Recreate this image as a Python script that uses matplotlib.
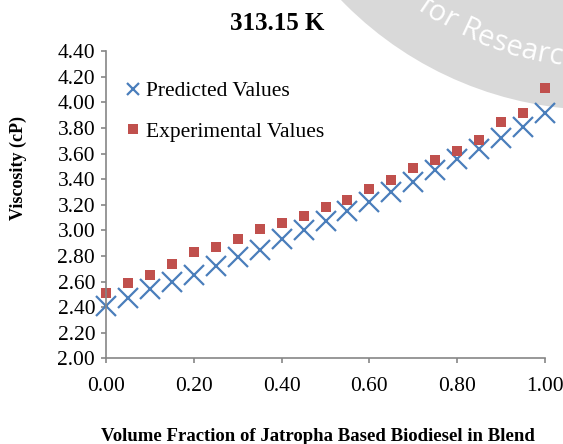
import numpy as np
import matplotlib.pyplot as plt
from matplotlib.patches import Circle
from matplotlib.font_manager import FontProperties
from matplotlib.textpath import TextToPath

# volume fraction of jatropha biodiesel in the blend
fraction = [0.00, 0.05, 0.10, 0.15, 0.20, 0.25, 0.30, 0.35, 0.40, 0.45, 0.50,
            0.55, 0.60, 0.65, 0.70, 0.75, 0.80, 0.85, 0.90, 0.95, 1.00]
# viscosity (cP) at 313.15 K
predicted = [2.41, 2.47, 2.54, 2.60, 2.65, 2.72, 2.79, 2.85, 2.93, 3.00, 3.07,
             3.15, 3.22, 3.30, 3.38, 3.47, 3.56, 3.64, 3.72, 3.81, 3.92]
experimental = [2.51, 2.59, 2.65, 2.74, 2.83, 2.87, 2.93, 3.01, 3.06, 3.11, 3.18,
                3.24, 3.32, 3.39, 3.49, 3.55, 3.62, 3.71, 3.85, 3.92, 4.11]

x_ticks = [0.0, 0.2, 0.4, 0.6, 0.8, 1.0]
y_ticks = [2.0, 2.2, 2.4, 2.6, 2.8, 3.0, 3.2, 3.4, 3.6, 3.8, 4.0, 4.2, 4.4]

W, H = 5.63, 4.44
plt.rcParams['font.family'] = ['Liberation Serif', 'DejaVu Serif']

fig = plt.figure(figsize=(W, H), dpi=100)

# journal watermark disc in the top right corner
cx, cy, rad = 6.0, H + 2.5, 3.6
fig.add_artist(Circle((cx, cy), rad, transform=fig.dpi_scale_trans,
                      facecolor='#d9d9d9', edgecolor='none', zorder=0))

wm_text = "for Research"
wm_prop = FontProperties(family='Open Sans', size=21)
t2p = TextToPath()


def width_in(s):
    w, _, _ = t2p.get_text_width_height_descent(s, wm_prop, ismath=False)
    return w / 72.0


r_txt = 3.10
phi_R = np.radians(-115.0)
s_R = width_in(wm_text[:5]) - width_in("R") / 2
for i, ch in enumerate(wm_text):
    if ch == " ":
        continue
    s_c = width_in(wm_text[:i + 1]) - width_in(ch) / 2
    phi = phi_R + (s_c - s_R) / r_txt
    fig.text(cx + r_txt * np.cos(phi), cy + r_txt * np.sin(phi), ch,
             transform=fig.dpi_scale_trans, fontproperties=wm_prop,
             color='white', rotation=np.degrees(phi) + 90,
             rotation_mode='anchor', ha='center', va='center', zorder=1)

ax = fig.add_axes([106 / 563, 1 - 358.3 / 444, 439 / 563, 307 / 444], zorder=2)
ax.patch.set_alpha(0)

ax.plot(fraction, predicted, linestyle='none', marker='x', markersize=14,
        markeredgewidth=1.6, color='#4a7ebb', clip_on=False,
        label='Predicted Values')
ax.plot(fraction, experimental, linestyle='none', marker='s', markersize=6.8,
        color='#c0504d', markeredgewidth=0, clip_on=False,
        label='Experimental Values')

ax.set_xlim(0, 1)
ax.set_ylim(2.0, 4.4)
ax.set_xticks(x_ticks)
ax.set_xticklabels([f"{v:.2f}" for v in x_ticks])
ax.set_yticks(y_ticks)
ax.set_yticklabels([f"{v:.2f}" for v in y_ticks])

for side in ['top', 'right']:
    ax.spines[side].set_visible(False)
for side in ['left', 'bottom']:
    ax.spines[side].set_color('#868686')
    ax.spines[side].set_linewidth(1.2)
ax.tick_params(direction='out', length=3.8, width=1.2, color='#868686',
               labelsize=15.5, labelcolor='black')
ax.tick_params(axis='x', pad=9.5)
ax.tick_params(axis='y', pad=4)

leg = ax.legend(loc='upper left', bbox_to_anchor=(124 / 563, 1 - 81 / 444),
                bbox_transform=fig.transFigure, frameon=False, fontsize=15.5,
                handlelength=0.8, handletextpad=0.2, labelspacing=0.95,
                borderpad=0, borderaxespad=0)
leg.legend_handles[0].set_markersize(9)

fig.text(277 / 563, 1 - 24 / 444, '313.15 K', fontsize=18, fontweight='bold',
         ha='center', va='center')
fig.text(18 / 563, 1 - 168 / 444, 'Viscosity (cP)', fontsize=13,
         fontweight='bold', rotation=90, ha='center', va='center')
fig.text(318 / 563, 1 - 436 / 444,
         'Volume Fraction of Jatropha Based Biodiesel in Blend', fontsize=13.5,
         fontweight='bold', ha='center', va='center')

fig.savefig('out.png', dpi=100)
